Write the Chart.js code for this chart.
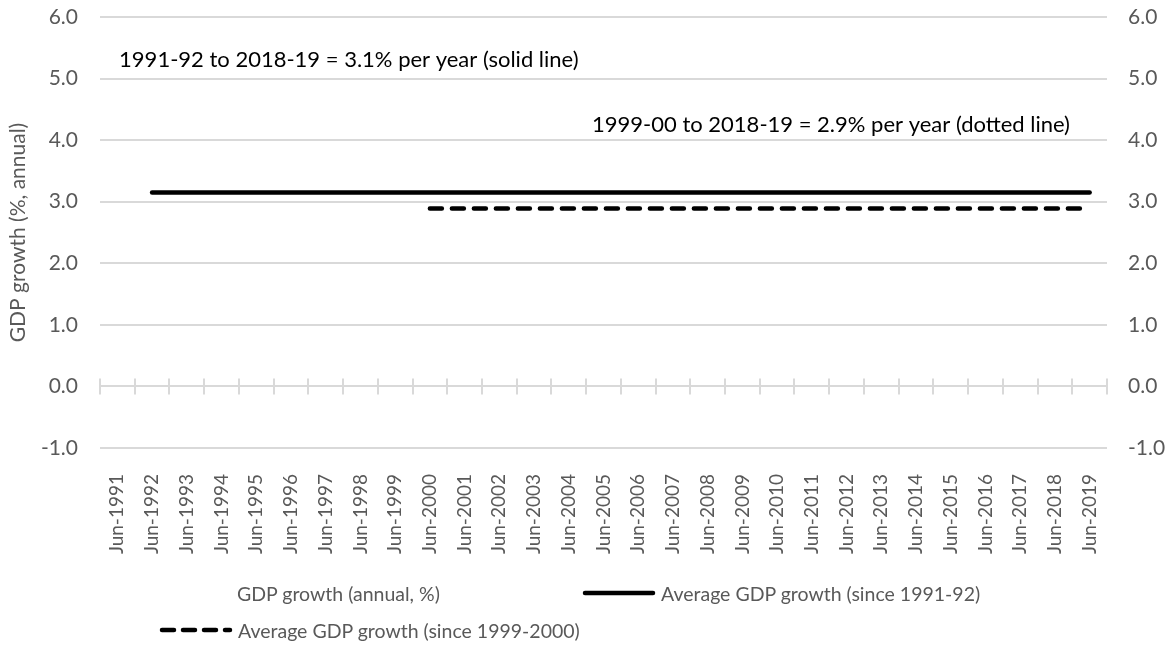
<!DOCTYPE html>
<html>
<head>
<meta charset="utf-8">
<script src="https://cdn.jsdelivr.net/npm/chart.js@4.4.1/dist/chart.umd.min.js"></script>
<style>
  html, body { margin: 0; padding: 0; background: #fff; }
  #wrap { position: relative; width: 1174px; height: 649px; }
  #legend { position: absolute; left: 0; top: 0; width: 1174px; height: 649px; pointer-events: none;
            font-family: Lato, 'Open Sans', sans-serif; font-size: 19.5px; color: #595959; }
  .lg-item { position: absolute; display: flex; align-items: center; white-space: nowrap; }
  .lg-line { margin-right: 5px; }
</style>
</head>
<body>
<div id="wrap">
  <canvas id="chart" width="1174" height="649"></canvas>
  <div id="legend"></div>
</div>
<script>
  // ── DADOS ───────────────────────────────────────────────
  const categories = [
    'Jun-1991','Jun-1992','Jun-1993','Jun-1994','Jun-1995','Jun-1996','Jun-1997','Jun-1998',
    'Jun-1999','Jun-2000','Jun-2001','Jun-2002','Jun-2003','Jun-2004','Jun-2005','Jun-2006',
    'Jun-2007','Jun-2008','Jun-2009','Jun-2010','Jun-2011','Jun-2012','Jun-2013','Jun-2014',
    'Jun-2015','Jun-2016','Jun-2017','Jun-2018','Jun-2019'
  ];
  // annual series is not visible in the picture
  const gdpGrowth = [
    null,null,null,null,null,null,null,null,null,null,null,null,null,null,null,
    null,null,null,null,null,null,null,null,null,null,null,null,null,null
  ];
  const avgSince1992 = [
    null,3.15,3.15,3.15,3.15,3.15,3.15,3.15,3.15,3.15,3.15,3.15,3.15,3.15,3.15,
    3.15,3.15,3.15,3.15,3.15,3.15,3.15,3.15,3.15,3.15,3.15,3.15,3.15,3.15
  ];
  const avgSince2000 = [
    null,null,null,null,null,null,null,null,null,2.89,2.89,2.89,2.89,2.89,2.89,
    2.89,2.89,2.89,2.89,2.89,2.89,2.89,2.89,2.89,2.89,2.89,2.89,2.89,2.89
  ];
  const seriesNames = [
    'GDP growth (annual, %)',
    'Average GDP growth (since 1991-92)',
    'Average GDP growth (since 1999-2000)'
  ];
  const yTicks = [-1, 0, 1, 2, 3, 4, 5, 6];
  const notes = [
    { text: '1991-92 to 2018-19 = 3.1% per year (solid line)', x: 0.05, y: 5.3 },
    { text: '1999-00 to 2018-19 = 2.9% per year (dotted line)', x: 13.67, y: 4.25 }
  ];

  const FONT = 'Lato, "Open Sans", sans-serif';
  const GRID = '#d9d9d9';
  const TXT = '#595959';

  // tick marks sitting on the zero line, between categories
  const zeroTicks = {
    id: 'zeroTicks',
    beforeDatasetsDraw(chart) {
      const xs = chart.scales.x, ys = chart.scales.y;
      const y0 = ys.getPixelForValue(0);
      const step = xs.width / categories.length;
      const ctx = chart.ctx;
      ctx.save();
      ctx.strokeStyle = GRID;
      ctx.lineWidth = 2;
      ctx.beginPath();
      for (let i = 0; i <= categories.length; i++) {
        const x = Math.round(xs.left + i * step);
        ctx.moveTo(x, y0 - 8);
        ctx.lineTo(x, y0 + 8);
      }
      ctx.stroke();
      ctx.restore();
    }
  };

  const noteLabels = {
    id: 'noteLabels',
    afterDraw(chart) {
      const xs = chart.scales.x, ys = chart.scales.y;
      const step = xs.width / categories.length;
      const ctx = chart.ctx;
      ctx.save();
      ctx.font = '22px ' + FONT;
      ctx.fillStyle = '#000';
      ctx.textBaseline = 'middle';
      notes.forEach(n => {
        const x = xs.left + n.x * step + step / 2;
        ctx.fillText(n.text, x, ys.getPixelForValue(n.y));
      });
      ctx.restore();
    }
  };

  // gap between labels and plot made with an invisible tick mark
  // (tick padding would also push the plot top down)
  const ctx = document.getElementById('chart').getContext('2d');
  new Chart(ctx, {
    data: {
      labels: categories,
      datasets: [
        { type: 'bar', label: seriesNames[0], data: gdpGrowth, backgroundColor: '#4472c4', yAxisID: 'y' },
        { type: 'line', label: seriesNames[1], data: avgSince1992, borderColor: '#000', borderWidth: 4.5,
          borderCapStyle: 'round', pointRadius: 0, fill: false, yAxisID: 'y' },
        { type: 'line', label: seriesNames[2], data: avgSince2000, borderColor: '#000', borderWidth: 4.5,
          borderDash: [12, 10], borderCapStyle: 'round', pointRadius: 0, fill: false, yAxisID: 'y' }
      ]
    },
    options: {
      responsive: false,
      animation: false,
      layout: { padding: { top: 17, bottom: 0, left: 0, right: 0 } },
      plugins: { legend: { display: false }, tooltip: { enabled: false } },
      scales: {
        x: {
          offset: true,
          grid: { display: false },
          border: { display: false },
          ticks: {
            autoSkip: false, minRotation: 90, maxRotation: 90, padding: 18,
            color: TXT, font: { family: FONT, size: 19 }
          },
          afterFit: s => { s.height = 201; }
        },
        y: {
          position: 'left', min: -1, max: 6,
          grid: { color: GRID, lineWidth: 2, drawTicks: true, tickLength: 22, tickColor: 'rgba(0,0,0,0)' },
          border: { display: false },
          afterBuildTicks: s => { s.ticks = yTicks.map(v => ({ value: v })); },
          ticks: { padding: 0, color: TXT, font: { family: FONT, size: 21 }, callback: v => v.toFixed(1) },
          title: { display: true, text: 'GDP growth (%, annual)', color: TXT,
                   font: { family: FONT, size: 21 }, padding: { top: 6, bottom: 0 } },
          afterFit: s => { s.width = 100; }
        },
        y2: {
          position: 'right', min: -1, max: 6,
          grid: { drawOnChartArea: false, drawTicks: true, tickLength: 21, tickColor: 'rgba(0,0,0,0)' },
          border: { display: false },
          afterBuildTicks: s => { s.ticks = yTicks.map(v => ({ value: v })); },
          ticks: { padding: 0, color: TXT, font: { family: FONT, size: 21 }, callback: v => v.toFixed(1) },
          afterFit: s => { s.width = 67; }
        }
      }
    },
    plugins: [zeroTicks, noteLabels]
  });

  // ── LEGENDA ──────────────────────────────────────────────
  const lineSvg = dash => `<svg class="lg-line" width="74" height="8">
      <line x1="3" y1="4" x2="71" y2="4" stroke="#000" stroke-width="4.5" stroke-linecap="round"
        ${dash ? 'stroke-dasharray="12 9"' : ''}/></svg>`;
  const legendItems = [
    { name: seriesNames[0], line: null, left: 237, top: 593 },
    { name: seriesNames[1], line: 'solid', left: 582, top: 593 },
    { name: seriesNames[2], line: 'dash', left: 159, top: 630 }
  ];
  document.getElementById('legend').innerHTML = legendItems.map(it => `
    <div class="lg-item" style="left:${it.left}px;top:${it.top - 12}px;height:24px">
      ${it.line ? lineSvg(it.line === 'dash') : ''}
      <span>${it.name}</span>
    </div>`).join('');
</script>
</body>
</html>
